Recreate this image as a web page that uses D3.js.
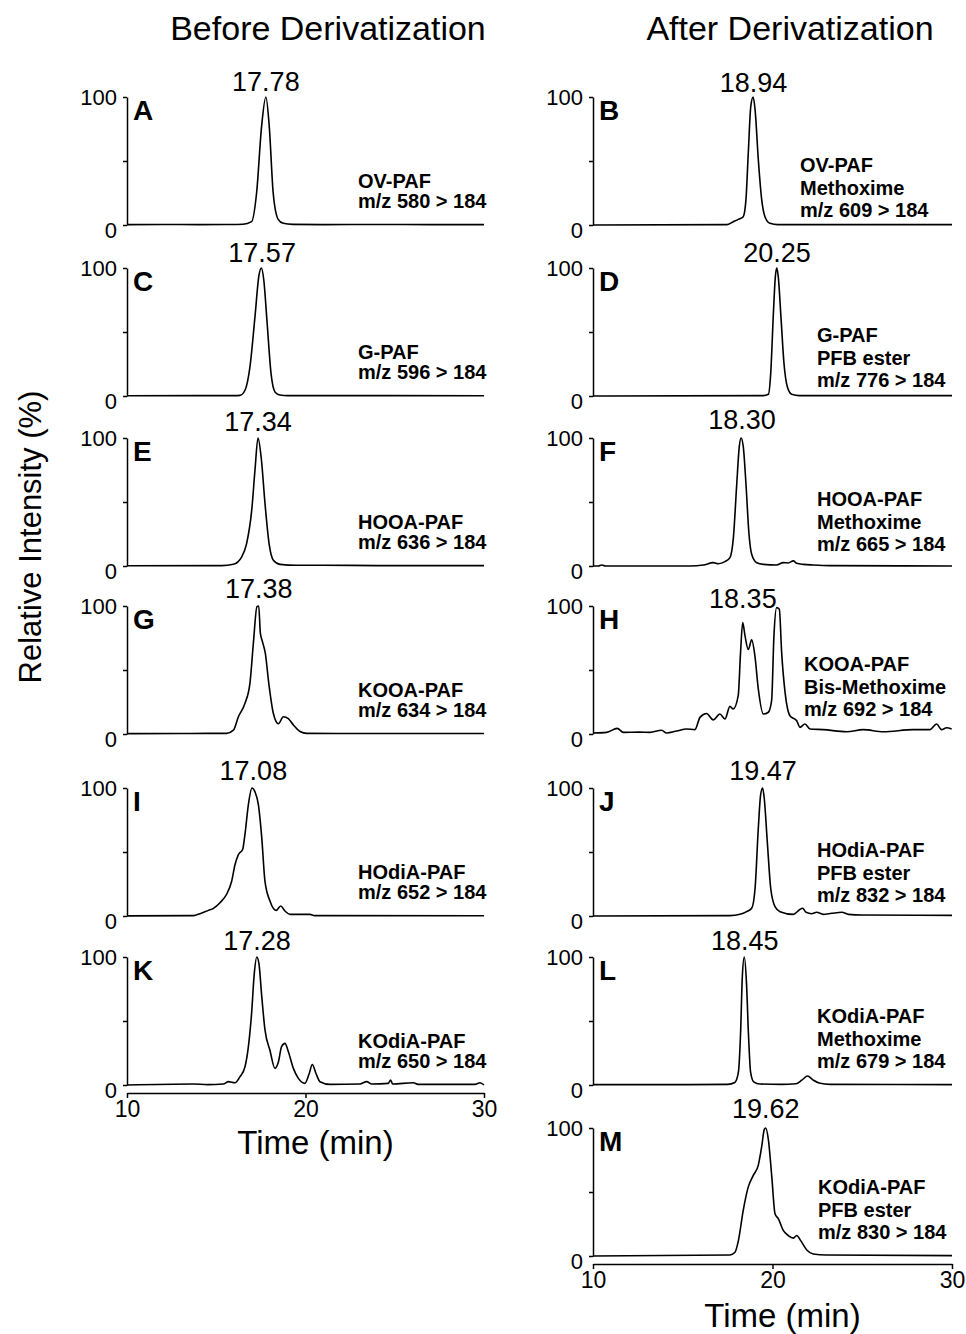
<!DOCTYPE html>
<html>
<head>
<meta charset="utf-8">
<script src="https://cdn.jsdelivr.net/npm/d3@7"></script>
<style>
  body { margin: 0; background: #fff; }
  svg { font-family: "Liberation Sans", Arial, sans-serif; }
  .trace { fill: none; stroke: #000; stroke-width: 1.6; }
  .axis path, .axis line { stroke: #000; stroke-width: 1.5; }
  .axis text { fill: #000; }
</style>
</head>
<body>
<div id="chart"></div>
<script>
// ---- data (time in min, relative intensity in %) ----
var timeDomain = [10, 30];
var yTickValues = [0, 50, 100];
var xTickValues = [10, 20, 30];

var columnTitles = ["Before Derivatization", "After Derivatization"];

// panel order: left column top->bottom, then right column top->bottom
var panelIds = ["A", "C", "E", "G", "I", "K", "B", "D", "F", "H", "J", "L", "M"];
var peakLabels = ["17.78", "17.57", "17.34", "17.38", "17.08", "17.28",
                  "18.94", "20.25", "18.30", "18.35", "19.47", "18.45", "19.62"];
var compoundLabels = [
  ["OV-PAF", "m/z 580 > 184"],
  ["G-PAF", "m/z 596 > 184"],
  ["HOOA-PAF", "m/z 636 > 184"],
  ["KOOA-PAF", "m/z 634 > 184"],
  ["HOdiA-PAF", "m/z 652 > 184"],
  ["KOdiA-PAF", "m/z 650 > 184"],
  ["OV-PAF", "Methoxime", "m/z 609 > 184"],
  ["G-PAF", "PFB ester", "m/z 776 > 184"],
  ["HOOA-PAF", "Methoxime", "m/z 665 > 184"],
  ["KOOA-PAF", "Bis-Methoxime", "m/z 692 > 184"],
  ["HOdiA-PAF", "PFB ester", "m/z 832 > 184"],
  ["KOdiA-PAF", "Methoxime", "m/z 679 > 184"],
  ["KOdiA-PAF", "PFB ester", "m/z 830 > 184"]
];

var traceA = [[10,0.3],[12,0.4],[14,0.3],[15.5,0.4],[16.5,0.6],[16.98,2.6],[17.26,25],[17.54,77],[17.78,100],[17.97,77],[18.19,25],[18.47,4.4],[18.75,1.3],[19.3,0.5],[21,0.3],[24,0.4],[27,0.3],[30,0.3]];
var traceC = [[10,0.2],[14,0.3],[16.0,0.3],[16.33,0.5],[16.61,4.5],[16.89,23],[17.17,62],[17.39,94],[17.53,100],[17.66,91],[17.85,57],[18.07,17.5],[18.3,3],[18.57,0.8],[19,0.3],[24,0.3],[30,0.2]];
var traceE = [[10,0.2],[15.3,0.3],[15.96,1.3],[16.42,7],[16.7,17.5],[16.99,44],[17.17,75],[17.34,100],[17.53,83],[17.73,49],[17.96,17.5],[18.2,4.5],[18.57,1.3],[19.5,0.6],[21,0.6],[24,0.3],[30,0.3]];
var traceG = [[10,0.3],[13,0.4],[14.5,0.5],[15.58,0.5],[15.96,3],[16.24,13.5],[16.61,24],[16.89,40],[17.08,71],[17.28,99.5],[17.38,100],[17.47,79],[17.57,73],[17.75,63],[17.94,40],[18.2,16],[18.48,8],[18.76,13.5],[19.04,12],[19.32,7],[19.69,2],[20.07,0.5],[24,0.4],[30,0.4]];
var traceI = [[10,0.1],[13.72,0.3],[14.09,1.8],[14.56,4.4],[14.84,6],[15.21,10.4],[15.58,17],[15.86,27],[16.05,40],[16.24,48],[16.48,52],[16.61,64],[16.8,87],[17.0,100],[17.17,97],[17.36,87],[17.55,61],[17.73,27],[18.01,11.7],[18.35,4.4],[18.61,7.8],[18.85,3.9],[19.13,1.3],[20.25,1.3],[20.5,0.3],[30,0.2]];
var traceK = [[10,0],[13.72,0.8],[14.5,0.3],[15.4,0.8],[15.68,2.6],[16.05,1.8],[16.33,6.5],[16.61,14.3],[16.8,30],[16.98,56],[17.13,87],[17.27,100],[17.39,95],[17.55,69],[17.73,43],[18.01,27],[18.29,13],[18.48,18],[18.66,30],[18.85,32.5],[19.04,26],[19.32,13],[19.6,5.2],[19.97,1.3],[20.21,9],[20.38,16],[20.59,9],[20.81,2.6],[21.37,0.5],[23.05,0.8],[23.43,2.6],[23.71,0.8],[24.64,1.3],[24.77,3.9],[24.88,0.8],[26.04,1.8],[26.3,0.5],[29.5,0.5],[29.78,1.8],[30,0]];

var traceB = [[10,0],[17.45,0.3],[17.82,2.6],[18.1,4.4],[18.37,6.5],[18.52,19.6],[18.65,56],[18.79,92.7],[18.92,100],[19.03,90],[19.21,51],[19.4,19.6],[19.58,6.5],[19.86,1.3],[20.3,0.3],[30,0.3]];
var traceD = [[10,0],[19.49,0.3],[19.77,1.3],[19.9,17.5],[20.05,64.7],[20.16,93.5],[20.24,100],[20.32,93.5],[20.47,62],[20.64,25.4],[20.83,7],[21.07,1.3],[21.5,0.3],[30,0.3]];
var traceF = [[10,0],[10.3,0],[10.48,0.8],[10.7,0],[15.4,0],[16.15,0.8],[16.7,2.6],[16.98,1.8],[17.35,3.4],[17.63,6.6],[17.82,22],[18.01,64.5],[18.15,93.4],[18.25,100],[18.37,93.4],[18.52,64.5],[18.69,25],[18.84,9.2],[19.12,2.6],[19.49,1.3],[20.23,0.8],[20.6,2.6],[20.88,2.4],[21.16,4],[21.35,2.1],[21.72,1.3],[22.27,0.8],[23.2,0.3],[30,0]];
var traceH = [[10,0.8],[10.76,1.3],[11.35,4.4],[11.69,1.3],[12.61,1.5],[13.17,1.3],[13.82,2.9],[14.1,0.8],[14.66,2.3],[15.21,3.9],[15.68,3.4],[15.96,13],[16.33,16],[16.7,11],[17.07,15.6],[17.35,11.7],[17.63,21.6],[17.81,19.5],[18.09,30],[18.22,63.6],[18.34,87],[18.47,76.6],[18.65,66],[18.84,73.5],[19.02,61],[19.21,35],[19.49,15.6],[19.77,17],[19.95,26],[20.08,76.6],[20.23,98.7],[20.38,97.4],[20.51,63.6],[20.7,32.5],[20.97,14.3],[21.35,10.4],[21.53,5.2],[21.81,7.8],[22.09,3.9],[22.83,3.4],[24.13,1.8],[25.06,3.4],[26.17,1.8],[27.84,3.4],[28.77,3.4],[29.14,7.8],[29.42,3.4],[29.7,4.9],[29.98,3.9]];
var traceJ = [[10,0],[17.63,0.3],[18.19,1.3],[18.56,3.4],[18.84,6],[19.03,21.7],[19.21,68.7],[19.34,94.8],[19.45,100],[19.54,92],[19.71,58],[19.9,21.7],[20.14,7.3],[20.42,3.4],[21.16,1.3],[21.49,4.7],[21.68,6],[21.87,2.9],[22.18,1.8],[22.46,2.9],[22.83,1.3],[23.3,2.1],[23.86,2.9],[24.23,1.3],[25,0.8],[30,0.5]];
var traceL = [[10,0.3],[14,0.3],[17.5,0.5],[17.9,2],[18.1,10],[18.22,40],[18.32,85],[18.43,100],[18.55,80],[18.66,40],[18.78,10],[18.95,2.5],[19.3,0.8],[20.5,0.5],[21.3,1],[21.65,4],[21.95,7],[22.25,4],[22.6,1.5],[23.2,0.5],[30,0.3]];
var traceM = [[10,0],[17.63,0.8],[17.91,2.9],[18.1,12],[18.37,35.7],[18.65,54],[18.93,63],[19.21,71],[19.4,85.6],[19.54,98.7],[19.62,100],[19.77,91],[19.96,62],[20.14,33],[20.33,29],[20.6,20],[20.88,16],[21.16,14],[21.35,16],[21.57,12],[21.91,4.7],[22.27,1.6],[23,0.8],[30,0.3]];

var traces = [traceA, traceC, traceE, traceG, traceI, traceK,
              traceB, traceD, traceF, traceH, traceJ, traceL, traceM];

// ---- layout ----
var W = 966, H = 1334;
var colRange = [[127, 484], [593, 952]];
var rowTop = [97, 268, 438, 606, 788, 957, 1128];
var plotH = 128;
var panelCol = [0,0,0,0,0,0, 1,1,1,1,1,1,1];
var panelRow = [0,1,2,3,4,5, 0,1,2,3,4,5,6];
var labelLeft = [358,358,358,358,358,358, 800,817,817,804,817,817,818];
var labelBottom = [-17,-17,-17,-17,-17,-17, -8,-9,-15,-18,-14,-17,-17];
var peakDy = [-6,-6,-7,-8,-8,-7, -5,-6,-9,2,-8,-7,-10];

var svg = d3.select("#chart").append("svg")
    .attr("width", W)
    .attr("height", H);

// column titles
svg.selectAll(".coltitle").data(columnTitles).enter().append("text")
    .attr("class", "coltitle")
    .attr("x", function(d, i) { return i === 0 ? 328 : 790; })
    .attr("y", 40)
    .attr("text-anchor", "middle")
    .style("font-size", "34px")
    .text(function(d) { return d; });

// y axis title
svg.append("text")
    .attr("transform", "translate(41,537) rotate(-90)")
    .attr("text-anchor", "middle")
    .style("font-size", "31px")
    .text("Relative Intensity (%)");

panelIds.forEach(function(id, i) {
    var col = panelCol[i], row = panelRow[i];
    var top = rowTop[row], zero = top + plotH;
    var x = d3.scaleLinear().domain(timeDomain).range(colRange[col]);
    var y = d3.scaleLinear().domain([0, 100]).range([zero, top]);
    var g = svg.append("g");

    var yAxis = d3.axisLeft(y)
        .tickValues(yTickValues)
        .tickSize(4)
        .tickSizeOuter(0)
        .tickPadding(6)
        .tickFormat(function(d) { return d === 50 ? "" : d; });
    var ya = g.append("g")
        .attr("class", "axis")
        .attr("transform", "translate(" + colRange[col][0] + ",0)")
        .call(yAxis);
    ya.selectAll("text").style("font-size", "22px").attr("font-family", null);
    ya.selectAll(".tick").filter(function(d) { return d === 0; })
        .select("text").attr("dy", "0.55em");

    var line = d3.line()
        .x(function(d) { return x(d[0]); })
        .y(function(d) { return y(d[1]); })
        .curve(d3.curveMonotoneX);
    g.append("path")
        .datum(traces[i])
        .attr("class", "trace")
        .attr("d", line);

    // panel letter
    g.append("text")
        .attr("x", colRange[col][0] + 6)
        .attr("y", top + 23)
        .style("font-size", "28px")
        .style("font-weight", "bold")
        .text(id);

    // peak retention time
    g.append("text")
        .attr("x", x(+peakLabels[i]))
        .attr("y", top + peakDy[i])
        .attr("text-anchor", "middle")
        .style("font-size", "27px")
        .text(peakLabels[i]);

    // compound / transition label
    var lines = compoundLabels[i];
    var step = col === 0 ? 20 : 22.5;
    g.selectAll(".cmp").data(lines).enter().append("text")
        .attr("class", "cmp")
        .attr("x", labelLeft[i])
        .attr("y", function(d, k) { return zero + labelBottom[i] - (lines.length - 1 - k) * step; })
        .style("font-size", "20px")
        .style("font-weight", "bold")
        .text(function(d) { return d; });

    // time axis under the bottom panel of each column
    var lastRow = col === 0 ? 5 : 6;
    if (row === lastRow) {
        var xa = g.append("g")
            .attr("class", "axis")
            .attr("transform", "translate(0," + (zero + 8) + ")")
            .call(d3.axisBottom(x).tickValues(xTickValues).tickSize(5).tickSizeOuter(0).tickPadding(3));
        xa.selectAll("text").style("font-size", "23px").attr("font-family", null);
        g.append("text")
            .attr("x", (colRange[col][0] + colRange[col][1]) / 2 + 10)
            .attr("y", zero + (col === 0 ? 69 : 71))
            .attr("text-anchor", "middle")
            .style("font-size", "33px")
            .text("Time (min)");
    }
});
</script>
</body>
</html>
